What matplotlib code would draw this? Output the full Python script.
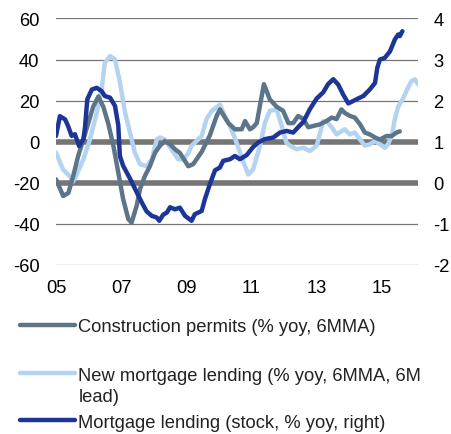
import matplotlib
matplotlib.use("Agg")
import matplotlib.pyplot as plt
from matplotlib.lines import Line2D

plt.rcParams["font.family"] = ["Liberation Sans", "DejaVu Sans"]
plt.rcParams["axes.unicode_minus"] = False

# Construction permits (% yoy, 6MMA) - left axis
permits_x = [2005.00, 2005.22, 2005.38, 2005.53, 2005.68, 2005.84, 2005.99, 2006.14,
             2006.30, 2006.45, 2006.60, 2006.76, 2006.91, 2007.06, 2007.22, 2007.32,
             2007.48, 2007.58, 2007.73, 2007.88, 2008.04, 2008.19, 2008.34, 2008.50,
             2008.65, 2008.80, 2009.06, 2009.21, 2009.47, 2009.72, 2009.93, 2010.03,
             2010.29, 2010.49, 2010.70, 2010.80, 2010.95, 2011.05, 2011.16, 2011.38,
             2011.56, 2011.77, 2011.97, 2012.13, 2012.28, 2012.43, 2012.59, 2012.74,
             2012.89, 2013.10, 2013.30, 2013.46, 2013.61, 2013.76, 2013.86, 2014.02,
             2014.17, 2014.33, 2014.48, 2014.63, 2014.79, 2014.94, 2015.14, 2015.30,
             2015.45, 2015.55]
permits = [-18.4, -26.5, -25, -16.7, -7, 1, 9, 17,
           22, 17, 9, -2, -15, -28, -37.8, -39.5,
           -31, -23, -16.7, -12, -5.4, -2, 0.3, -1.3,
           -3.7, -5.5, -12, -11, -5, 3, 12.5, 15.7,
           9, 6, 6, 10, 6, 7, 9, 28,
           20.6, 17, 15, 9, 9, 12.5, 11, 7,
           7.6, 8.4, 10, 11.7, 11, 15.7, 14, 12.5,
           11.7, 8.4, 4.4, 3.5, 2, 1, 2.7, 2.7,
           4.4, 5]

# New mortgage lending (% yoy, 6MMA, 6M lead) - left axis
new_lend_x = [2005.00, 2005.21, 2005.43, 2005.52, 2005.58, 2005.84, 2006.04, 2006.25,
              2006.40, 2006.50, 2006.66, 2006.81, 2006.96, 2007.12, 2007.27, 2007.42,
              2007.58, 2007.78, 2007.94, 2008.09, 2008.19, 2008.34, 2008.55, 2008.75,
              2008.90, 2009.05, 2009.16, 2009.36, 2009.47, 2009.62, 2009.78, 2010.03,
              2010.18, 2010.34, 2010.54, 2010.75, 2010.90, 2011.05, 2011.26, 2011.41,
              2011.56, 2011.77, 2011.92, 2012.07, 2012.18, 2012.38, 2012.59, 2012.79,
              2013.00, 2013.10, 2013.20, 2013.30, 2013.46, 2013.61, 2013.76, 2013.86,
              2014.02, 2014.17, 2014.33, 2014.48, 2014.63, 2014.79, 2014.94, 2015.09,
              2015.19, 2015.30, 2015.40, 2015.50, 2015.65, 2015.78, 2015.91, 2016.01,
              2016.11]
new_lend = [-5.4, -13.5, -17, -19.5, -18, -8.6, 1, 14,
            25.5, 38.5, 41.7, 40, 29, 14, 4.5, -5.4,
            -11, -12, -8.6, 1, 2, 1, -4, -8.6,
            -8.6, -6, -2, 1, 2.7, 11, 15, 18,
            12.5, 7.6, -0.5, -10, -16, -13.5, -2, 9,
            15, 15.7, 8, -0.5, -2, -3.7, -3, -4.6,
            -2, 4, 10, 10, 7, 3.5, 5, 6,
            3.5, 4.4, 1, -2, -1.3, 0.3, -1.3, -3,
            -1.3, 2.7, 11, 17, 21, 25.5, 29.5, 30.4,
            28]

# Mortgage lending (stock, % yoy) - right axis
stock_x = [2005.00, 2005.12, 2005.28, 2005.37, 2005.48, 2005.58, 2005.71, 2005.84,
           2005.89, 2005.96, 2006.10, 2006.25, 2006.40, 2006.50, 2006.66, 2006.81,
           2006.91, 2006.96, 2007.06, 2007.27, 2007.48, 2007.63, 2007.78, 2007.94,
           2008.09, 2008.17, 2008.29, 2008.40, 2008.50, 2008.65, 2008.80, 2008.96,
           2009.16, 2009.26, 2009.47, 2009.57, 2009.72, 2009.88, 2010.03, 2010.13,
           2010.34, 2010.49, 2010.64, 2010.85, 2011.05, 2011.21, 2011.41, 2011.67,
           2011.87, 2012.08, 2012.28, 2012.43, 2012.59, 2012.79, 2013.00, 2013.20,
           2013.35, 2013.51, 2013.66, 2013.81, 2013.97, 2014.12, 2014.27, 2014.43,
           2014.63, 2014.79, 2014.86, 2014.94, 2015.09, 2015.25, 2015.40, 2015.50,
           2015.55, 2015.63]
stock = [1.14, 1.62, 1.54, 1.38, 1.14, 1.18, 0.89, 1.06,
         1.35, 2.03, 2.27, 2.31, 2.23, 2.11, 2.07, 1.87,
         1.4, 0.65, 0.41, 0.1, -0.24, -0.48, -0.7, -0.81,
         -0.85, -0.93, -0.78, -0.73, -0.6, -0.65, -0.61, -0.81,
         -0.93, -0.77, -0.69, -0.4, -0.04, 0.3, 0.37, 0.53,
         0.57, 0.65, 0.57, 0.67, 0.87, 0.98, 1.06, 1.1,
         1.22, 1.26, 1.22, 1.35, 1.48, 1.79, 2.05, 2.2,
         2.4, 2.52, 2.39, 2.15, 1.93, 1.99, 2.05, 2.11,
         2.27, 2.43, 2.8, 3.0, 3.04, 3.2, 3.49, 3.61,
         3.57, 3.69]

year_ticks = [2005, 2007, 2009, 2011, 2013, 2015]
year_labels = ["05", "07", "09", "11", "13", "15"]
left_ticks = [-60, -40, -20, 0, 20, 40, 60]
right_ticks = [-2, -1, 0, 1, 2, 3, 4]

c_permits = "#5d7589"
c_new = "#b4d3f1"
c_stock = "#1c3597"
grid_c = "#757575"
fs = 13.2

fig = plt.figure(figsize=(4.51, 4.35), dpi=100)
ax = fig.add_axes([0.1242, 0.3892, 0.8027, 0.566])

for v in [60, 40, 20, -40, -60]:
    ax.axhline(v, color=grid_c, lw=0.9, zorder=1)
for v in [0, -20]:
    ax.axhline(v, color=grid_c, lw=4, zorder=1)

ax.plot(permits_x, permits, color=c_permits, lw=3.2, zorder=3, solid_capstyle="round")
ax.plot(new_lend_x, new_lend, color=c_new, lw=3.2, zorder=2, solid_capstyle="round")

ax.set_xlim(2005, 2016.11)
ax.set_ylim(-60, 60)
ax.set_xticks(year_ticks)
ax.set_xticklabels(year_labels)
ax.set_yticks(left_ticks)
ax.tick_params(axis="both", length=0, labelsize=fs)
ax.tick_params(axis="y", pad=12)
ax.tick_params(axis="x", pad=10)

ax2 = ax.twinx()
ax2.plot(stock_x, stock, color=c_stock, lw=3.2, solid_capstyle="round")
ax2.set_ylim(-2, 4)
ax2.set_yticks(right_ticks)
ax2.tick_params(axis="y", length=0, labelsize=fs, pad=11)

for a in (ax, ax2):
    for s in a.spines.values():
        s.set_visible(False)

# legend, drawn below the plot (pixel positions from the top)
W, H = 451, 435
entries = [
    (c_permits, "Construction permits (% yoy, 6MMA)", 326.3, 332.3),
    (c_new, "New mortgage lending (% yoy, 6MMA, 6M\nlead)", 374, 402),
    (c_stock, "Mortgage lending (stock, % yoy, right)", 420.7, 427.8),
]
for col, label, yh, yb in entries:
    fig.add_artist(Line2D([20 / W, 75 / W], [1 - yh / H, 1 - yh / H],
                          color=col, lw=3.2, solid_capstyle="round"))
    fig.text(78.5 / W, 1 - yb / H, label, fontsize=fs, va="baseline",
             ha="left", color="#222222", linespacing=1.32)

fig.savefig("out.png", dpi=100)
